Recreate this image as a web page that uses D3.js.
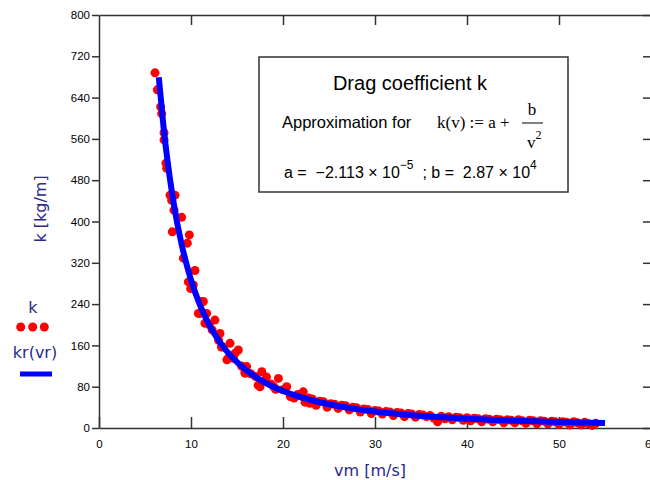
<!DOCTYPE html>
<html>
<head>
<meta charset="utf-8">
<script src="https://cdn.jsdelivr.net/npm/d3@7"></script>
<style>
  html, body { margin: 0; padding: 0; background: #fff; }
  svg { display: block; }
</style>
</head>
<body>
<svg id="chart" width="650" height="480"></svg>
<script>
// ---- data ----
const vm = [
  6.09, 6.34, 6.7, 6.81, 7.07, 7.07, 7.28, 7.36, 7.72, 7.9, 8.26, 8.15, 8.98, 7.97,
  9.82, 9.6, 9.17, 10.43, 9.71, 9.96, 10.25, 11.34, 11.16, 10.98, 10.8, 11.7, 11.52,
  12.0, 12.3, 12.6, 13.0, 13.15, 13.3, 13.5, 14.24, 14.05, 13.9, 14.6, 14.8, 15.14,
  15.5, 16.05, 15.87, 15.87, 16.5, 17.0, 17.7, 18.2, 17.3, 17.5, 18.7, 19.0, 19.2,
  19.5, 20.0, 20.4, 20.8, 21.2, 21.6, 22.0, 22.2, 22.4, 22.8, 22.9, 23.2, 23.6, 24.0,
  24.4, 24.8, 25.2, 25.6, 26.0, 26.4, 26.8, 27.2, 27.6, 28.0, 28.4, 28.8, 29.2, 29.6,
  30.0, 30.4, 30.8, 31.2, 31.6, 32.0, 32.4, 32.8, 33.2, 33.6, 34.0, 34.4, 34.8, 35.2,
  35.6, 36.0, 36.4, 36.8, 37.2, 37.6, 38.0, 38.4, 38.8, 39.2, 39.6, 40.0, 40.4, 40.8,
  41.2, 41.6, 42.0, 42.4, 42.8, 43.2, 43.6, 44.0, 44.4, 44.8, 45.2, 45.6, 46.0, 46.4,
  46.8, 47.2, 47.6, 48.0, 48.4, 48.8, 49.2, 49.6, 50.0, 50.4, 50.8, 51.2, 51.6, 52.0,
  52.4, 52.8, 53.2, 53.6, 54.0
];
const k = [
  688, 655, 622, 609, 572, 558, 513, 503, 451, 441, 451, 422, 408, 380,
  374, 358, 329, 305, 283, 270, 277, 245, 245, 222, 222, 222, 203,
  200, 190, 209, 170, 183, 157, 157, 164, 135, 132, 135, 145, 151,
  120, 119, 106, 109, 105, 100, 109, 99, 83, 80, 85, 80, 75,
  96, 74, 80, 61, 58, 65, 62, 70, 50, 58, 48, 56, 44, 52,
  51, 40, 47, 46, 38, 44, 43, 35, 40, 39, 31, 37, 36, 28,
  34, 33, 27, 32, 31, 24, 30, 29, 22, 28, 27, 21, 26, 25,
  22, 24, 19, 12, 23, 18, 22, 16, 21, 20, 15, 20, 14, 19,
  18, 12, 18, 17, 12, 17, 16, 10, 16, 15, 10, 16, 14, 9,
  15, 14, 8, 14, 13, 8, 13, 12, 7, 12, 11, 6, 12, 10,
  6, 11, 8, 5, 9
];
// approximation curve kr(vr)
const vr = [6.5, 7, 7.5, 8, 8.5, 9, 9.5, 10, 11, 12, 13, 14, 15, 16, 17, 18, 19, 20,
            22, 24, 26, 28, 30, 33, 36, 40, 44, 48, 52, 55];
const kr = [679.3, 585.7, 510.2, 448.4, 397.2, 354.3, 318.0, 287.0, 237.2, 199.3, 169.8,
            146.4, 127.6, 112.1, 99.3, 88.6, 79.5, 71.8, 59.3, 49.8, 42.5, 36.6, 31.9,
            26.4, 22.1, 17.9, 14.8, 12.5, 10.6, 9.5];
const xTicks = [0, 10, 20, 30, 40, 50, 60];
const yTicks = [0, 80, 160, 240, 320, 400, 480, 560, 640, 720, 800];

// ---- drawing ----
const svg = d3.select("#chart");
const x = d3.scaleLinear().domain([0, 60]).range([99, 651]);
const y = d3.scaleLinear().domain([0, 800]).range([428, 15]);
const axisCol = "#333";
const titleCol = "#2a2a88";

// bottom axis: ticks inside (up)
const gx = svg.append("g").attr("transform", `translate(0,${y(0)})`)
  .call(d3.axisBottom(x).tickValues(xTicks).tickSizeInner(-11).tickSizeOuter(0).tickPadding(12)
        .tickFormat(d3.format("d")));
// left axis: ticks outside
const gy = svg.append("g").attr("transform", `translate(${x(0)},0)`)
  .call(d3.axisLeft(y).tickValues(yTicks).tickSizeInner(7).tickSizeOuter(0).tickPadding(2)
        .tickFormat(d3.format("d")));
// top axis: ticks inside (down), no labels
svg.append("g").attr("transform", `translate(0,${y(800)})`)
  .call(d3.axisTop(x).tickValues(xTicks.slice(1, 6)).tickSizeInner(-10).tickSizeOuter(0).tickFormat(""));
// right axis: ticks inside (left), no labels
svg.append("g").attr("transform", `translate(${x(60)},0)`)
  .call(d3.axisRight(y).tickValues(yTicks).tickSizeInner(-8).tickSizeOuter(0).tickFormat(""));

svg.selectAll(".domain").attr("stroke", axisCol).attr("stroke-width", 1.5);
svg.selectAll(".tick line").attr("stroke", axisCol).attr("stroke-width", 1.5);
svg.selectAll(".tick text").attr("font-family", "Liberation Sans, Arial, sans-serif")
  .attr("font-size", 11.5).attr("fill", "#000");

// axis titles
svg.append("text").attr("x", 370).attr("y", 476).attr("text-anchor", "middle")
  .attr("font-family", "DejaVu Sans, sans-serif").attr("font-size", 16).attr("fill", titleCol)
  .text("vm [m/s]");
svg.append("text").attr("transform", "translate(46,209) rotate(-90)").attr("text-anchor", "middle")
  .attr("font-family", "DejaVu Sans, sans-serif").attr("font-size", 16).attr("fill", titleCol)
  .text("k [kg/m]");

// data points
svg.append("g").selectAll("circle").data(d3.range(vm.length)).join("circle")
  .attr("cx", i => x(vm[i])).attr("cy", i => y(k[i])).attr("r", 4.5).attr("fill", "#ff0000");

// approximation curve
const line = d3.line().x((d, i) => x(vr[i])).y((d, i) => y(kr[i])).curve(d3.curveMonotoneX);
svg.append("path").datum(vr).attr("d", line).attr("fill", "none")
  .attr("stroke", "#0000ff").attr("stroke-width", 6);

// legend
svg.append("text").attr("x", 33).attr("y", 313).attr("text-anchor", "middle")
  .attr("font-family", "DejaVu Sans, sans-serif").attr("font-size", 16).attr("fill", titleCol).text("k");
svg.append("g").selectAll("circle").data([20.7, 32.7, 44.3]).join("circle")
  .attr("cx", d => d).attr("cy", 327).attr("r", 4.5).attr("fill", "#ff0000");
svg.append("text").attr("x", 35).attr("y", 358).attr("text-anchor", "middle")
  .attr("font-family", "DejaVu Sans, sans-serif").attr("font-size", 16).attr("fill", titleCol).text("kr(vr)");
svg.append("line").attr("x1", 20).attr("x2", 52).attr("y1", 374).attr("y2", 374)
  .attr("stroke", "#0000ff").attr("stroke-width", 5);

// annotation box
svg.append("rect").attr("x", 259).attr("y", 57).attr("width", 309).attr("height", 135)
  .attr("fill", "#fff").attr("stroke", "#333").attr("stroke-width", 1.5);
svg.append("text").attr("x", 410).attr("y", 90).attr("text-anchor", "middle")
  .attr("font-family", "Liberation Sans, Arial, sans-serif").attr("font-size", 20).attr("fill", "#000")
  .text("Drag coefficient k");
svg.append("text").attr("x", 282).attr("y", 128)
  .attr("font-family", "Liberation Sans, Arial, sans-serif").attr("font-size", 16.5).attr("fill", "#000")
  .text("Approximation for");
svg.append("text").attr("x", 437).attr("y", 128)
  .attr("font-family", "Liberation Serif, Times New Roman, serif").attr("font-size", 17).attr("fill", "#000")
  .attr("xml:space", "preserve").style("white-space", "pre")
  .text("k(v) := a + ");
svg.append("text").attr("x", 532).attr("y", 115).attr("text-anchor", "middle")
  .attr("font-family", "Liberation Serif, Times New Roman, serif").attr("font-size", 17).attr("fill", "#000")
  .text("b");
svg.append("line").attr("x1", 522).attr("x2", 543).attr("y1", 123).attr("y2", 123)
  .attr("stroke", "#000").attr("stroke-width", 1);
const vt = svg.append("text").attr("x", 527).attr("y", 148)
  .attr("font-family", "Liberation Serif, Times New Roman, serif").attr("font-size", 17).attr("fill", "#000");
vt.append("tspan").text("v");
vt.append("tspan").attr("dy", -9).attr("font-size", 12).text("2");

const t3 = svg.append("text").attr("x", 284).attr("y", 178)
  .attr("font-family", "Liberation Sans, Arial, sans-serif").attr("font-size", 16).attr("fill", "#000")
  .attr("xml:space", "preserve").style("white-space", "pre");
t3.append("tspan").text("a =  \u22122.113 \u00d7 10");
t3.append("tspan").attr("dy", -9).attr("font-size", 12).text("\u22125");
t3.append("tspan").attr("dy", 9).text("  ; b =  2.87 \u00d7 10");
t3.append("tspan").attr("dy", -9).attr("font-size", 12).text("4");
</script>
</body>
</html>
